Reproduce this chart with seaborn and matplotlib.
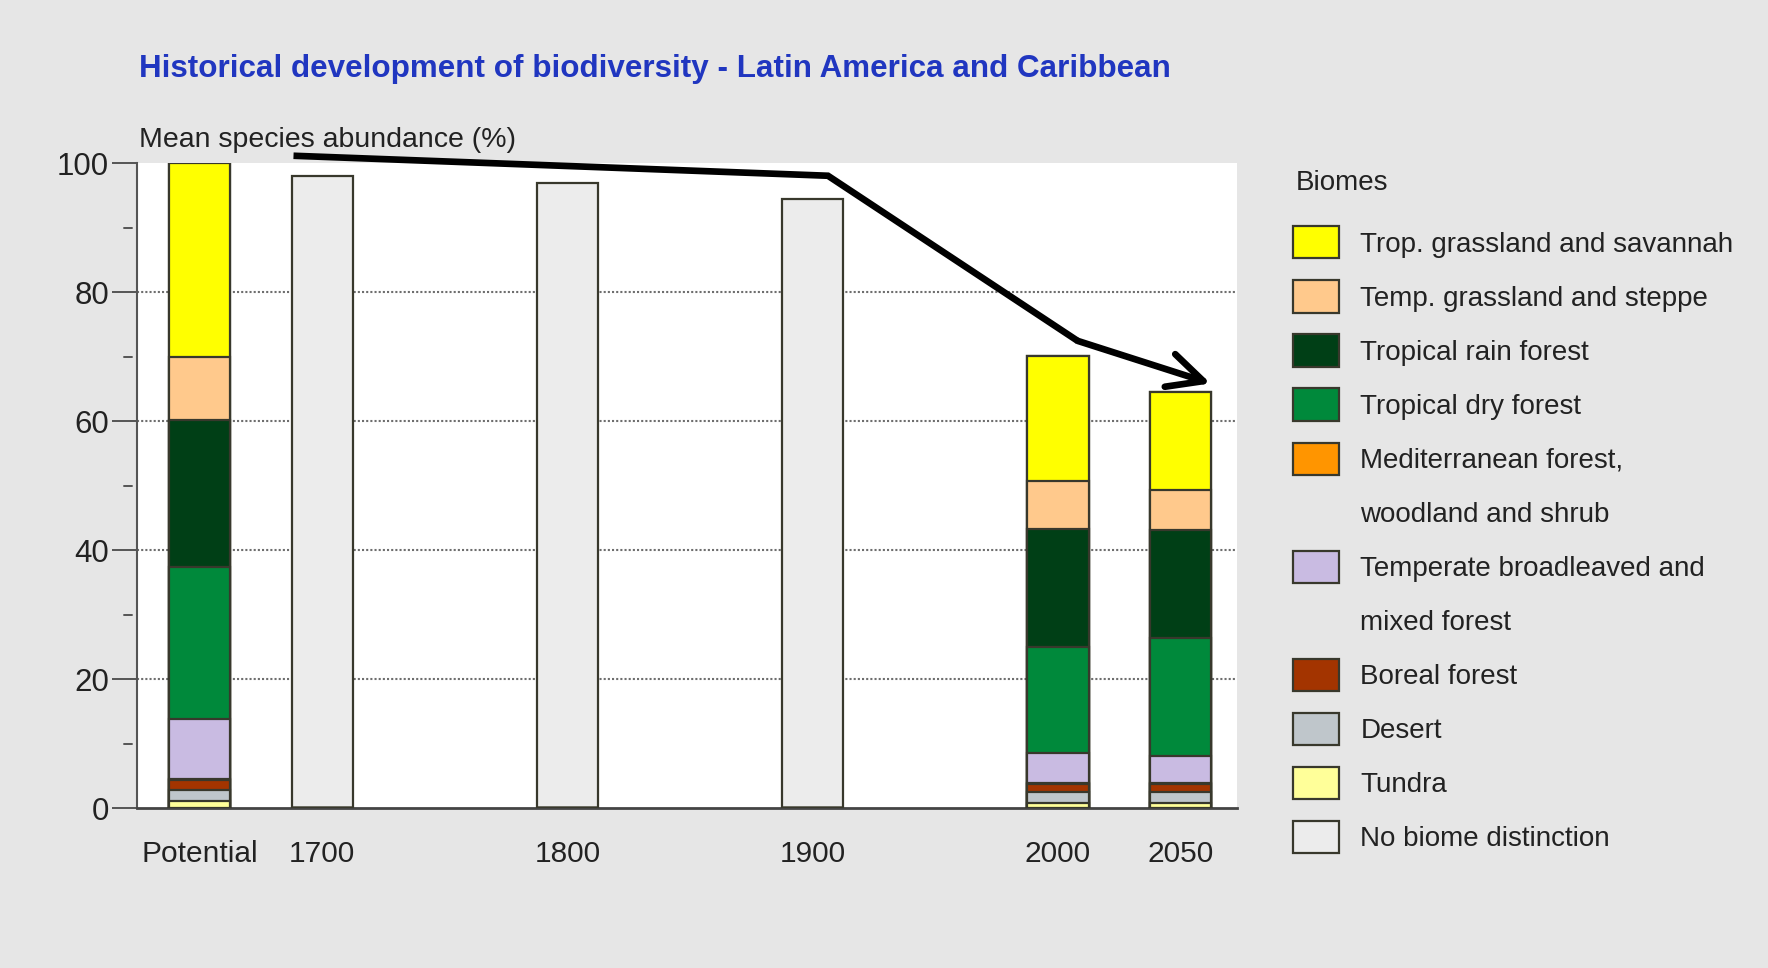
import matplotlib
matplotlib.use("Agg")
import matplotlib.pyplot as plt
from matplotlib.patches import Patch
import numpy as np
import seaborn as sns

# Periods on the x axis and where they sit on a year scale
periods = ["Potential", "1700", "1800", "1900", "2000", "2050"]
period_pos = [1650, 1700, 1800, 1900, 2000, 2050]

# Mean species abundance (%) contributed by each biome, stacked bottom to top
tundra = [1.2, 0, 0, 0, 0.9, 0.8]
desert = [1.7, 0, 0, 0, 1.7, 1.8]
boreal = [1.5, 0, 0, 0, 1.2, 1.2]
mediterranean = [0.2, 0, 0, 0, 0.1, 0.1]
temperate_broadleaf = [9.2, 0, 0, 0, 4.7, 4.2]
trop_dry_forest = [23.6, 0, 0, 0, 16.5, 18.4]
trop_rain_forest = [22.8, 0, 0, 0, 18.2, 16.7]
temp_grassland = [9.8, 0, 0, 0, 7.4, 6.1]
trop_grassland = [30.0, 0, 0, 0, 19.5, 15.3]
no_biome = [0, 98.0, 97.0, 94.5, 0, 0]

biome_names = [
    "Tundra", "Desert", "Boreal forest", "Mediterranean forest,\nwoodland and shrub",
    "Temperate broadleaved and\nmixed forest", "Tropical dry forest",
    "Tropical rain forest", "Temp. grassland and steppe",
    "Trop. grassland and savannah", "No biome distinction",
]
biome_values = [tundra, desert, boreal, mediterranean, temperate_broadleaf,
                trop_dry_forest, trop_rain_forest, temp_grassland,
                trop_grassland, no_biome]
biome_colors = ["#ffff99", "#bfc6cb", "#a33400", "#ff9500", "#c9bbe2",
                "#00893b", "#003f16", "#ffc98c", "#ffff00", "#ececec"]

edge = "#38382c"
text_col = "#222222"
font_list = ["Liberation Sans", "DejaVu Sans"]

sns.set_style("white")
plt.rcParams["font.family"] = font_list

fig = plt.figure(figsize=(17.68, 9.68), dpi=100, facecolor="#e6e6e6")
ax = fig.add_axes([0.0775, 0.1648, 0.6222, 0.6663])
ax.set_facecolor("white")

# Stack by drawing cumulative totals, tallest first
cum = np.cumsum(np.array(biome_values, dtype=float), axis=0)
for i in range(len(biome_values) - 1, -1, -1):
    sns.barplot(x=period_pos, y=cum[i], native_scale=True, width=0.5,
                color=biome_colors[i], saturation=1, edgecolor=edge,
                linewidth=1.6, errorbar=None, ax=ax, zorder=3)

ax.set_xlim(1624.5, 2073)
ax.set_ylim(0, 100)
ax.set_xlabel("")
ax.set_ylabel("")

# Dotted horizontal grid
for g in [20, 40, 60, 80]:
    ax.axhline(g, color="#6e6e6e", lw=1.5, ls=(0, (1, 1)), zorder=1)

for s in ["top", "right"]:
    ax.spines[s].set_visible(False)
ax.spines["left"].set_color("#555555")
ax.spines["left"].set_linewidth(1.5)
ax.spines["bottom"].set_color("#444444")
ax.spines["bottom"].set_linewidth(2)

ax.set_yticks([0, 20, 40, 60, 80, 100])
ax.tick_params(axis="y", direction="out", length=18, width=1.4, color="#555555",
               pad=2, labelsize=22.5, labelcolor=text_col, left=True)
ax.set_xticks(period_pos, periods)
ax.tick_params(axis="x", length=0, pad=23, labelsize=21.5, labelcolor=text_col)

# Short detached minor ticks between the labelled ones
for m in [10, 30, 50, 70, 90]:
    ax.plot([-0.0118, -0.0043], [m, m], transform=ax.get_yaxis_transform(),
            color="#555555", lw=1.4, clip_on=False)

ax.text(0.002, 1.036, "Mean species abundance (%)", transform=ax.transAxes,
        ha="left", va="center", fontsize=20.5, color=text_col)

fig.text(0.0786, 0.929,
         "Historical development of biodiversity - Latin America and Caribbean",
         ha="left", va="center", fontsize=22.6, fontweight="bold",
         color="#2036c0")

# Trend arrow across the periods
arrow_x = [1688.3, 1906.2, 2008.0]
arrow_y = [101.2, 98.1, 72.5]
ax.plot(arrow_x, arrow_y, color="black", lw=4.8, clip_on=False, zorder=6,
        solid_joinstyle="miter", solid_capstyle="butt")
ax.annotate("", xy=(2062.2, 65.9), xytext=(arrow_x[-1], arrow_y[-1]),
            arrowprops=dict(arrowstyle="->, head_length=0.9, head_width=0.44",
                            lw=4.8, color="black", shrinkA=0, shrinkB=0,
                            mutation_scale=28),
            zorder=6, annotation_clip=False)

# Legend, top to bottom, with continuation rows for wrapped names
order = [8, 7, 6, 5, 3, 4, 2, 1, 0, 9]
handles, labels = [], []
blank = Patch(facecolor="none", edgecolor="none")
for i in order:
    parts = biome_names[i].split("\n")
    handles.append(Patch(facecolor=biome_colors[i], edgecolor=edge, linewidth=1.6))
    labels.append(parts[0])
    for extra in parts[1:]:
        handles.append(blank)
        labels.append(extra)

fig.text(0.7328, 1 - 182.7 / 968, "Biomes", ha="left", va="center",
         fontsize=20, color=text_col)
leg = fig.legend(handles, labels, loc="upper left", bbox_to_anchor=(0.7313, 0.7661),
                 bbox_transform=fig.transFigure, frameon=False,
                 fontsize=20, handlelength=1.66, handleheight=1.4,
                 handletextpad=0.77, labelspacing=0.79, borderpad=0,
                 borderaxespad=0)
for t in leg.get_texts():
    t.set_color(text_col)

fig.savefig("out.png", dpi=100, facecolor=fig.get_facecolor())
